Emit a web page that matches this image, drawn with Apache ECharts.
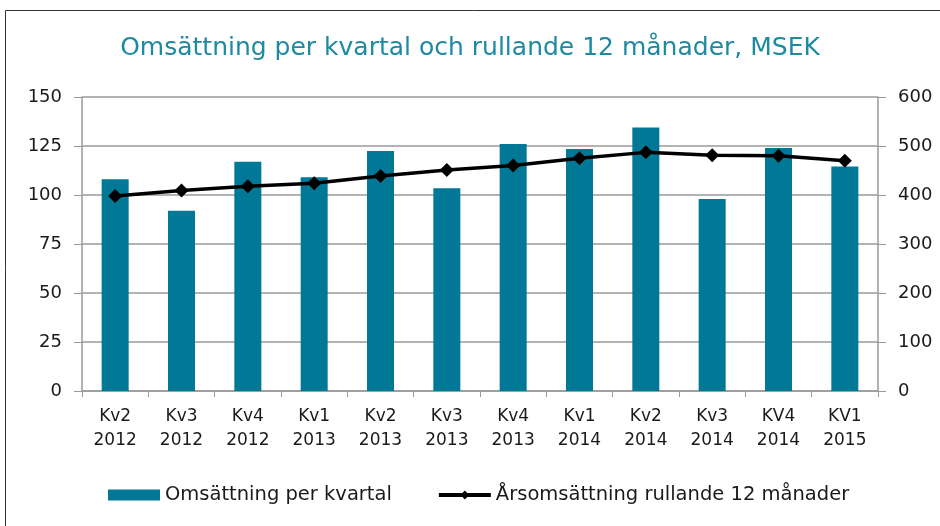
<!DOCTYPE html>
<html>
<head>
    <meta charset="utf-8">
    <title>Omsättning</title>
    <script src="https://cdn.jsdelivr.net/npm/echarts@6/dist/echarts.min.js"></script>
</head>
<body style="margin:0">
    <div id="main" style="width: 940px;height:526px;"></div>
    <script type="text/javascript">
        var categories = ['Kv2\n2012', 'Kv3\n2012', 'Kv4\n2012', 'Kv1\n2013', 'Kv2\n2013', 'Kv3\n2013',
            'Kv4\n2013', 'Kv1\n2014', 'Kv2\n2014', 'Kv3\n2014', 'KV4\n2014', 'KV1\n2015'];
        var kvartal = [108, 92, 117, 109, 122.5, 103.5, 126, 123.5, 134.5, 98, 124, 114.5];
        var rullande = [398, 409, 418, 424, 439, 451, 460, 475, 487, 481, 480, 470];

        var chart = echarts.init(document.getElementById('main'));
        var font = 'DejaVu Sans';
        var grey = '#9a9a9a';
        var ink = '#1a1a1a';

        chart.setOption({
            animation: false,
            backgroundColor: '#fff',
            textStyle: { fontFamily: font },
            graphic: [{
                type: 'rect',
                shape: { x: 5.5, y: 10.5, width: 1000, height: 600 },
                style: { fill: 'none', stroke: '#333', lineWidth: 1 },
                silent: true
            }],
            title: {
                text: 'Omsättning per kvartal och rullande 12 månader, MSEK',
                left: 'center',
                top: 31,
                textStyle: { color: '#1d8aa2', fontSize: 25, fontWeight: 'normal', fontFamily: font }
            },
            legend: {
                top: 480,
                left: 103,
                itemGap: 45,
                itemWidth: 52,
                itemHeight: 11,
                textStyle: { fontSize: 19.5, color: ink, fontFamily: font },
                lineStyle: { width: 4 },
                data: [
                    { name: 'Omsättning per kvartal', icon: 'rect' },
                    { name: 'Årsomsättning rullande 12 månader' }
                ]
            },
            grid: { left: 82, right: 62, top: 97, bottom: 135 },
            xAxis: {
                type: 'category',
                data: categories,
                axisLine: { lineStyle: { color: grey, width: 1.5 } },
                axisTick: { show: true, length: 6, lineStyle: { color: grey } },
                axisLabel: { color: ink, fontSize: 17, lineHeight: 24, margin: 14, interval: 0 }
            },
            yAxis: [{
                type: 'value',
                min: 0, max: 150, interval: 25,
                axisLine: { show: true, lineStyle: { color: grey, width: 1.5 } },
                axisTick: { show: true, length: 8, lineStyle: { color: grey } },
                splitLine: { lineStyle: { color: grey, width: 1.5 } },
                axisLabel: { color: ink, fontSize: 18, margin: 20 }
            }, {
                type: 'value',
                min: 0, max: 600, interval: 100,
                axisLine: { show: true, lineStyle: { color: grey, width: 1.5 } },
                axisTick: { show: true, length: 8, lineStyle: { color: grey } },
                splitLine: { show: false },
                axisLabel: { color: ink, fontSize: 18, margin: 20 }
            }],
            series: [{
                name: 'Omsättning per kvartal',
                type: 'bar',
                data: kvartal,
                barWidth: 27,
                itemStyle: { color: '#007896' }
            }, {
                name: 'Årsomsättning rullande 12 månader',
                type: 'line',
                yAxisIndex: 1,
                data: rullande,
                symbol: 'diamond',
                symbolSize: 14,
                lineStyle: { color: '#000', width: 3.5 },
                itemStyle: { color: '#000' }
            }]
        });
    </script>
</body>
</html>
